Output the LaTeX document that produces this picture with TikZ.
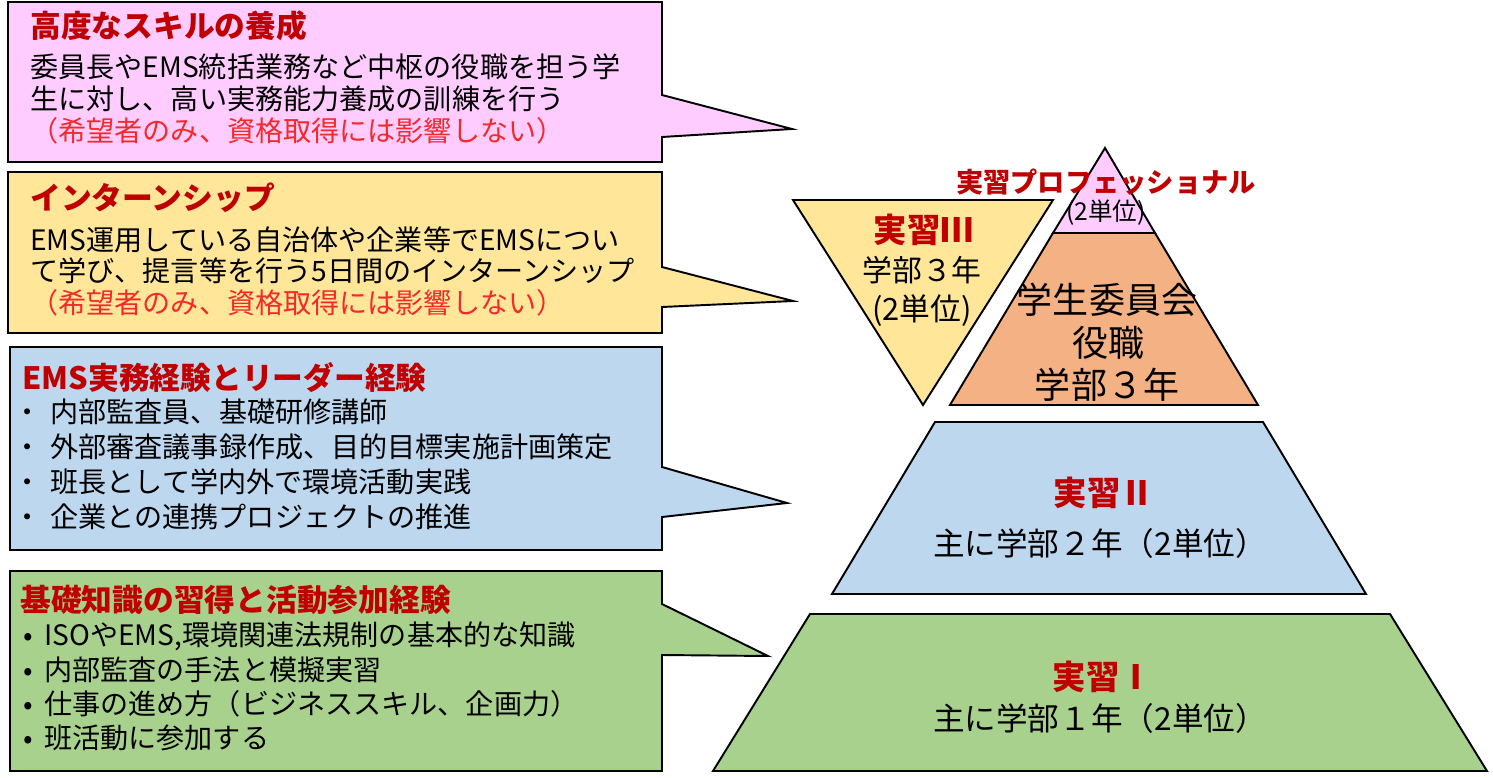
\documentclass[tikz,border=0pt]{standalone}
\usepackage{fontspec}
\setmainfont{Noto Sans CJK JP}
\usepackage{tikz}
\usetikzlibrary{positioning}
\definecolor{ink}{HTML}{000000}
\definecolor{headred}{HTML}{C00000}
\definecolor{notered}{HTML}{F42A2A}
\definecolor{pinkfill}{HTML}{FFCCFF}
\definecolor{goldfill}{HTML}{FFE699}
\definecolor{skyfill}{HTML}{BDD7EE}
\definecolor{leaffill}{HTML}{A9D18E}
\definecolor{peachfill}{HTML}{F4B183}
\newcommand{\fs}[1]{\fontsize{#1}{#1}\selectfont}
\newcommand{\dotmark}{\makebox[1.0em][l]{\hspace{-0.3em}・}}
\newcommand{\bulmark}{\makebox[0.85em][l]{\hspace{0.1em}•}}

\begin{document}
\begin{tikzpicture}[x=0.02cm,y=-0.02cm,
  outline/.style={draw=ink,line width=1.1pt,line join=miter},
  head/.style={anchor=west,inner sep=0pt,font=\fs{17.5}\bfseries,text=headred},
  body/.style={anchor=west,inner sep=0pt,font=\fs{16}},
  note/.style={body,text=notered},
  lvl/.style={inner sep=0pt,font=\fs{18}},
  lvlhead/.style={inner sep=0pt,font=\fs{19}\bfseries,text=headred}]
\useasboundingbox (0,0) rectangle (1493,777);

% callout boxes on the left
\filldraw[outline,fill=pinkfill] (8,2) -- (662,2) -- (662,95) -- (792,129) -- (662,137) -- (662,162) -- (8,162) -- cycle;
\filldraw[outline,fill=goldfill] (8,172) -- (662,172) -- (662,267) -- (793,301) -- (662,307) -- (662,333) -- (8,333) -- cycle;
\filldraw[outline,fill=skyfill] (10,347) -- (662,347) -- (662,467) -- (787,503) -- (662,517) -- (662,550) -- (10,550) -- cycle;
\filldraw[outline,fill=leaffill] (10,571) -- (662,571) -- (662,604) -- (768,656) -- (662,655) -- (662,771) -- (10,771) -- cycle;

% pyramid
\filldraw[outline,fill=leaffill] (713,771) -- (1487,771) -- (1390,614) -- (810,614) -- cycle;
\filldraw[outline,fill=skyfill] (832,594) -- (1366,594) -- (1263,422) -- (935,422) -- cycle;
\filldraw[outline,fill=peachfill] (950,405) -- (1258,405) -- (1155,233) -- (1053,233) -- cycle;
\filldraw[outline,fill=pinkfill] (1053,233) -- (1155,233) -- (1105,148) -- cycle;
\filldraw[outline,fill=goldfill] (793,200) -- (1053,200) -- (923,405) -- cycle;

% box texts
\node[head] (skillh) at (30,26) {高度なスキルの養成};
\node[body] (skill1) at (30,67) {委員長やEMS統括業務など中枢の役職を担う学};
\node[body] (skill2) at (30,99) {生に対し、高い実務能力養成の訓練を行う};
\node[note] (skill3) at (30,131) {（希望者のみ、資格取得には影響しない）};

\node[head] (internh) at (30,198) {インターンシップ};
\node[body] (intern1) at (30,240) {EMS運用している自治体や企業等でEMSについ};
\node[body] (intern2) at (30,271) {て学び、提言等を行う5日間のインターンシップ};
\node[note] (intern3) at (30,303) {（希望者のみ、資格取得には影響しない）};

\node[head] (emsh) at (22,378) {EMS実務経験とリーダー経験};
\foreach \t [count=\i] in {内部監査員、基礎研修講師,外部審査議事録作成、目的目標実施計画策定,班長として学内外で環境活動実践,企業との連携プロジェクトの推進}
  \node[body] (ems\i) at (22,{412+(\i-1)*35}) {\dotmark\t};

\node[head] (baseh) at (20,600) {基礎知識の習得と活動参加経験};
\foreach \t [count=\i] in {{ISOやEMS,環境関連法規制の基本的な知識},内部監査の手法と模擬実習,仕事の進め方（ビジネススキル、企画力）,班活動に参加する}
  \node[body] (base\i) at (20,{636+(\i-1)*34}) {\bulmark\t};

% pyramid texts
\node[lvlhead,font=\fs{15.5}\bfseries] (proh) at (1106,182) {実習プロフェッショナル};
\node[lvl,font=\fs{14}] (pro1) at (1106,213) {(2単位)};

\node[lvlhead] (p3h) at (924,230) {実習Ⅲ};
\node[lvl,font=\fs{17}] (p31) at (922,270) {学部３年};
\node[lvl,font=\fs{17.5}] (p32) at (922,311) {(2単位)};

\node[lvl,font=\fs{20.5}] (role1) at (1107,300) {学生委員会};
\node[lvl,font=\fs{20.5}] (role2) at (1108,343) {役職};
\node[lvl,font=\fs{20.5}] (role3) at (1107,385) {学部３年};

\node[lvlhead] (p2h) at (1104,493) {実習Ⅱ};
\node[lvl] (p21) at (1100,543) {主に学部２年（2単位）};

\node[lvlhead] (p1h) at (1103,677) {実習Ⅰ};
\node[lvl] (p11) at (1100,718) {主に学部１年（2単位）};
\end{tikzpicture}
\end{document}
